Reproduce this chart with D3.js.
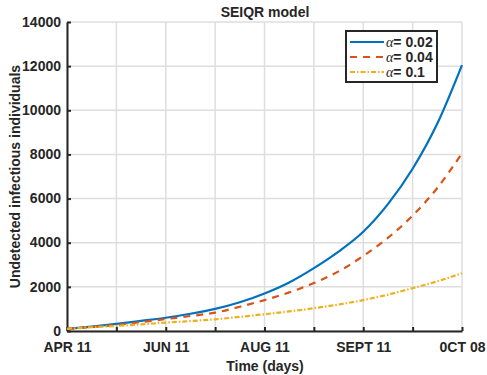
<!DOCTYPE html>
<html>
<head>
<meta charset="utf-8">
<script src="https://cdn.jsdelivr.net/npm/d3@7"></script>
<style>
  body { margin: 0; background: #fff; }
  svg text { font-family: "Liberation Sans", Arial, sans-serif; font-weight: bold; fill: #262626; }
</style>
</head>
<body>
<svg class="chart"></svg>
<script>
// days since APR 11
const days = [0, 11.25, 22.5, 33.75, 45, 56.25, 67.5, 78.75, 90, 101.25, 112.5, 123.75, 135, 146.25, 157.5, 168.75, 180];
const alpha002 = [100, 200, 320, 460, 600, 780, 1000, 1300, 1700, 2200, 2850, 3600, 4500, 5750, 7350, 9400, 12050];
const alpha004 = [100, 180, 270, 400, 540, 680, 830, 1100, 1400, 1750, 2170, 2700, 3400, 4220, 5230, 6480, 8050];
const alpha01 = [100, 170, 230, 300, 380, 450, 530, 640, 760, 890, 1030, 1200, 1400, 1650, 1940, 2250, 2620];
const seriesNames = ["α= 0.02", "α= 0.04", "α= 0.1"];
const xTicks = [0, 22.5, 45, 67.5, 90, 112.5, 135, 157.5, 180];
const xTickLabels = ["APR 11", "", "JUN 11", "", "AUG 11", "", "SEPT 11", "", "0CT 08"];
const yTicks = [0, 2000, 4000, 6000, 8000, 10000, 12000, 14000];

const margin = { top: 22, right: 25, bottom: 44, left: 67 },
      width = 487 - margin.left - margin.right,
      height = 375 - margin.top - margin.bottom;

const svg = d3.select(".chart")
    .attr("width", 487)
    .attr("height", 375);

const g = svg.append("g")
    .attr("transform", `translate(${margin.left}, ${margin.top})`);

const x = d3.scaleLinear().domain([0, 180]).range([0, width]);
const y = d3.scaleLinear().domain([0, 14000]).range([height, 0]);

// grid
g.append("g").selectAll("line").data(xTicks).enter().append("line")
    .attr("x1", d => x(d)).attr("x2", d => x(d))
    .attr("y1", 0).attr("y2", height)
    .attr("stroke", "#dedede").attr("stroke-width", 1.5);
g.append("g").selectAll("line").data(yTicks).enter().append("line")
    .attr("x1", 0).attr("x2", width)
    .attr("y1", d => y(d)).attr("y2", d => y(d))
    .attr("stroke", "#dedede").attr("stroke-width", 1.5);

// axes
const xAxis = g.append("g")
    .attr("transform", `translate(0, ${height})`)
    .call(d3.axisBottom(x).tickValues(xTicks).tickSizeInner(-4).tickSizeOuter(0)
        .tickFormat((d, i) => xTickLabels[i]));
const yAxis = g.append("g")
    .call(d3.axisLeft(y).tickValues(yTicks).tickSizeInner(-4).tickSizeOuter(0)
        .tickFormat(d3.format("d")));

[xAxis, yAxis].forEach(a => {
    a.select(".domain").attr("stroke", "#262626").attr("stroke-width", 2);
    a.selectAll(".tick line").attr("stroke", "#262626").attr("stroke-width", 2);
    a.selectAll(".tick text").attr("font-size", 14).attr("fill", "#262626")
        .style("font-family", "'Liberation Sans', Arial, sans-serif");
});
xAxis.selectAll(".tick text").attr("dy", "1.05em").attr("y", 6);
yAxis.selectAll(".tick text").attr("x", -6).attr("dy", "0.3em");

// lines
const series = [
    { name: seriesNames[0], values: alpha002, color: "#0072BD", dash: null },
    { name: seriesNames[1], values: alpha004, color: "#D95319", dash: "7,6" },
    { name: seriesNames[2], values: alpha01, color: "#EDB120", dash: "5,2,1.5,2" }
];

const line = d3.line()
    .x((d, i) => x(days[i]))
    .y(d => y(d))
    .curve(d3.curveMonotoneX);

series.forEach(s => {
    g.append("path")
        .datum(s.values)
        .attr("fill", "none")
        .attr("stroke", s.color)
        .attr("stroke-width", 2.2)
        .attr("stroke-dasharray", s.dash)
        .attr("d", line);
});

// title & labels
svg.append("text")
    .attr("x", 265).attr("y", 17)
    .attr("text-anchor", "middle")
    .attr("font-size", 14)
    .text("SEIQR model");

svg.append("text")
    .attr("x", 265).attr("y", 371)
    .attr("text-anchor", "middle")
    .attr("font-size", 14)
    .text("Time (days)");

svg.append("text")
    .attr("transform", `translate(20, ${margin.top + height / 2}) rotate(-90)`)
    .attr("text-anchor", "middle")
    .attr("font-size", 14)
    .text("Undetected infectious individuals");

// legend
const legend = svg.append("g").attr("transform", "translate(346, 31)");
legend.append("rect")
    .attr("width", 91).attr("height", 51)
    .attr("fill", "#fff").attr("stroke", "#262626").attr("stroke-width", 2);
series.forEach((s, i) => {
    const ly = 11 + i * 15;
    legend.append("line")
        .attr("x1", 4).attr("x2", 38)
        .attr("y1", ly).attr("y2", ly)
        .attr("stroke", s.color).attr("stroke-width", 2.2)
        .attr("stroke-dasharray", s.dash);
    const t = legend.append("text")
        .attr("x", 40).attr("y", ly + 5)
        .attr("font-size", 14);
    t.append("tspan")
        .style("font-family", "'Liberation Serif', 'Times New Roman', serif")
        .style("font-style", "italic")
        .style("font-weight", "normal")
        .text("α");
    t.append("tspan").text(s.name.slice(1));
});
</script>
</body>
</html>
